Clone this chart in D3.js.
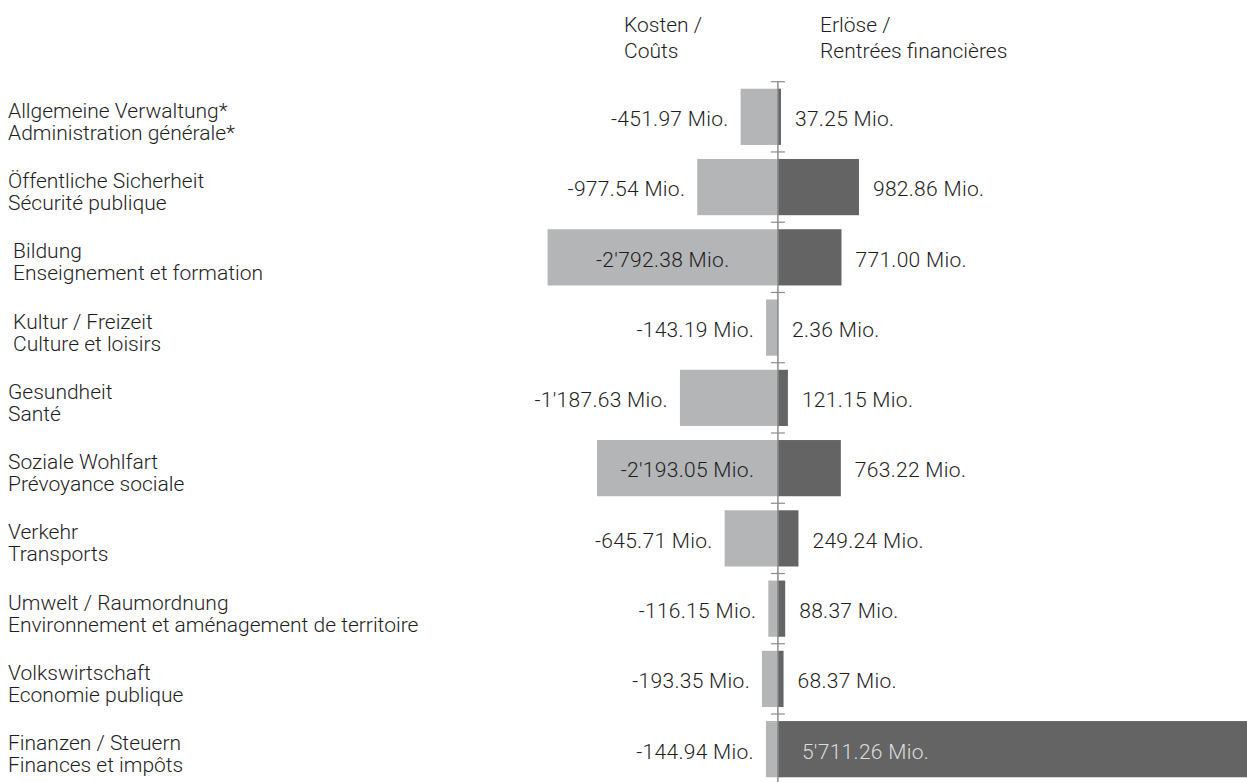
<!DOCTYPE html>
<html>
<head>
<meta charset="utf-8">
<script src="https://cdn.jsdelivr.net/npm/d3@7/dist/d3.min.js"></script>
<style>
  html, body { margin: 0; padding: 0; background: #fff; }
  svg { display: block; }
  text { font-family: Roboto, "Liberation Sans", sans-serif; font-weight: 300; fill: #1e1e1e; }
</style>
</head>
<body>
<svg id="chart" width="1247" height="782"></svg>
<script>
// Functional areas (German / French)
const categoriesDe = [
  "Allgemeine Verwaltung*",
  "Öffentliche Sicherheit",
  "\u00a0Bildung",
  "\u00a0Kultur / Freizeit",
  "Gesundheit",
  "Soziale Wohlfart",
  "Verkehr",
  "Umwelt / Raumordnung",
  "Volkswirtschaft",
  "Finanzen / Steuern"
];
const categoriesFr = [
  "Administration générale*",
  "Sécurité publique",
  "\u00a0Enseignement et formation",
  "\u00a0Culture et loisirs",
  "Santé",
  "Prévoyance sociale",
  "Transports",
  "Environnement et aménagement de territoire",
  "Economie publique",
  "Finances et impôts"
];
// Costs (negative) and revenues, in millions
const costs = [-451.97, -977.54, -2792.38, -143.19, -1187.63, -2193.05, -645.71, -116.15, -193.35, -144.94];
const revenues = [37.25, 982.86, 771.00, 2.36, 121.15, 763.22, 249.24, 88.37, 68.37, 5711.26];
const headerCosts = ["Kosten /", "Coûts"];
const headerRevenues = ["Erlöse /", "Rentrées financières"];

const svg = d3.select("#chart");
const fmt = v => {
  const s = d3.format(",.2f")(Math.abs(v)).replace(/,/g, "'");
  return (v < 0 ? "-" : "") + s + " Mio.";
};

const x = d3.scaleLinear().domain([-9432, 5712]).range([0, 1249]);
const x0 = x(0);
const y = d3.scaleBand()
  .domain(d3.range(categoriesDe.length))
  .range([81.7, 784.3])
  .paddingInner(0.2)
  .paddingOuter(0.1);
const step = y.step();
const axisTop = y.range()[0];
const mid = i => y(i) + y.bandwidth() / 2;

const rows = d3.range(categoriesDe.length).map(i => ({
  i, de: categoriesDe[i], fr: categoriesFr[i], cost: costs[i], rev: revenues[i]
}));

// Cost bars
svg.append("g").selectAll("rect").data(rows).join("rect")
  .attr("x", d => x(d.cost))
  .attr("y", d => y(d.i))
  .attr("width", d => x0 - x(d.cost))
  .attr("height", y.bandwidth())
  .attr("fill", "#b4b5b7");

// Revenue bars
svg.append("g").selectAll("rect").data(rows).join("rect")
  .attr("x", x0)
  .attr("y", d => y(d.i))
  .attr("width", d => x(d.rev) - x0)
  .attr("height", y.bandwidth())
  .attr("fill", "#646464");

// Centre axis with ticks at row boundaries
const axis = svg.append("g").attr("stroke", "#8c8c8c");
axis.append("line")
  .attr("x1", x0).attr("x2", x0)
  .attr("y1", axisTop).attr("y2", 782)
  .attr("stroke-width", 1.5);
axis.selectAll("line.tick").data(d3.range(categoriesDe.length)).join("line")
  .attr("class", "tick")
  .attr("x1", x0 - 7).attr("x2", x0 + 7)
  .attr("y1", i => axisTop + i * step).attr("y2", i => axisTop + i * step)
  .attr("stroke-width", 1.2);

// Category labels
const labels = svg.append("g").selectAll("text").data(rows).join("text")
  .attr("x", 8)
  .attr("y", d => mid(d.i) + 1)
  .style("font-size", "21px");
labels.append("tspan").attr("x", 8).text(d => d.de);
labels.append("tspan").attr("x", 8).attr("dy", 22).text(d => d.fr);

// Cost value labels: centred inside long bars, otherwise left of the bar
const costInside = d => d.cost < -2000;
svg.append("g").selectAll("text").data(rows).join("text")
  .attr("x", d => costInside(d) ? (x(d.cost) + x0) / 2 : x(d.cost) - 12)
  .attr("y", d => mid(d.i) + 2)
  .attr("dy", "0.35em")
  .attr("text-anchor", d => costInside(d) ? "middle" : "end")
  .style("font-size", "21px")
  .style("letter-spacing", "0.3px")
  .text(d => fmt(d.cost));

// Revenue value labels
svg.append("g").selectAll("text").data(rows).join("text")
  .attr("x", d => d.rev > 5000 ? x0 + 24 : x(d.rev) + 14)
  .attr("y", d => mid(d.i) + 2)
  .attr("dy", "0.35em")
  .style("font-size", "21px")
  .style("letter-spacing", "0.3px")
  .style("fill", d => d.rev > 5000 ? "#dcdcdc" : null)
  .text(d => fmt(d.rev));

// Column headers
const hdr = svg.append("g").style("font-size", "21px");
[[624, headerCosts], [820, headerRevenues]].forEach(([hx, lines]) => {
  const t = hdr.append("text").attr("y", 32);
  lines.forEach((l, k) => t.append("tspan").attr("x", hx).attr("dy", k ? 26 : 0).text(l));
});
</script>
</body>
</html>
